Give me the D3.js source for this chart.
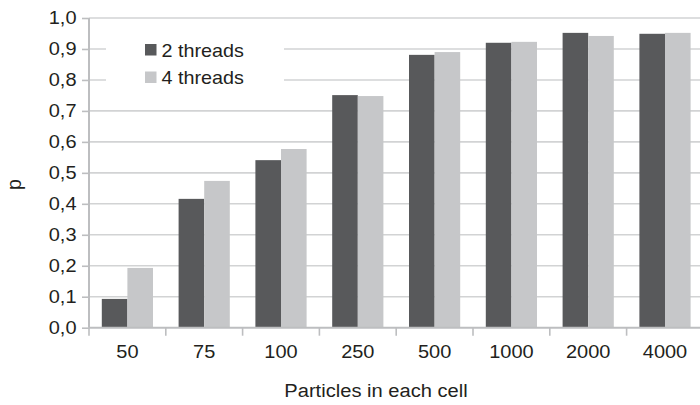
<!DOCTYPE html>
<html>
<head>
<meta charset="utf-8">
<script src="https://cdn.jsdelivr.net/npm/d3@7"></script>
<style>
  html, body { margin: 0; padding: 0; background: #ffffff; }
  svg { display: block; font-family: "Liberation Sans", Arial, sans-serif; }
</style>
</head>
<body>
<svg id="chart" width="700" height="405"></svg>
<script>
const categories = ["50", "75", "100", "250", "500", "1000", "2000", "4000"];
const seriesNames = ["2 threads", "4 threads"];
const threads2 = [0.093, 0.416, 0.541, 0.751, 0.881, 0.920, 0.952, 0.949];
const threads4 = [0.193, 0.474, 0.577, 0.748, 0.890, 0.923, 0.942, 0.952];
const yTicks = [0, 0.1, 0.2, 0.3, 0.4, 0.5, 0.6, 0.7, 0.8, 0.9, 1.0];
const colors = ["#58595b", "#c6c7c9"];

const data = categories.map((c, i) => ({ cat: c, values: [threads2[i], threads4[i]] }));

const svg = d3.select("#chart");
const mLeft = 89, mRight = 703.4, mTop = 18, mBottom = 327.7;
const textColor = "#231f20";
const gridColor = "#d2d3d4";
const axisColor = "#bdbec0";
const tickScale = 1.08, legScale = 1.04, titleScale = 1.06;

const x = d3.scaleBand().domain(categories).range([mLeft, mRight]).padding(0);
const x1 = d3.scaleBand().domain([0, 1]).range([0, x.bandwidth()]).paddingInner(0).paddingOuter(0.5);
const y = d3.scaleLinear().domain([0, 1]).range([mBottom, mTop]);
const fmt = d => d3.format(".1f")(d).replace(".", ",");

// gridlines
svg.append("g").selectAll("line").data(yTicks.filter(t => t > 0)).join("line")
  .attr("x1", mLeft).attr("x2", 700)
  .attr("y1", d => y(d)).attr("y2", d => y(d))
  .attr("stroke", gridColor).attr("stroke-width", 1.6);

// legend background (covers gridlines)
svg.append("rect").attr("x", 106).attr("y", 34).attr("width", 178).attr("height", 58).attr("fill", "#ffffff");

// bars
const g = svg.append("g");
g.selectAll("g").data(data).join("g")
  .attr("transform", d => `translate(${x(d.cat)},0)`)
  .selectAll("rect").data(d => d.values.map((v, k) => ({ v, k }))).join("rect")
  .attr("x", d => x1(d.k)).attr("width", x1.bandwidth())
  .attr("y", d => y(d.v)).attr("height", d => y(0) - y(d.v))
  .attr("fill", d => colors[d.k]);

// y axis
const yAxis = svg.append("g").attr("transform", `translate(${mLeft},0)`)
  .call(d3.axisLeft(y).tickValues(yTicks).tickFormat(fmt).tickSize(7).tickPadding(5));
yAxis.select(".domain").attr("stroke", axisColor).attr("stroke-width", 2).attr("d", `M0,${mTop}V${mBottom}`);
yAxis.selectAll(".tick line").attr("stroke", axisColor).attr("stroke-width", 1.6);
yAxis.selectAll(".tick text").attr("fill", textColor).attr("font-size", "18.5px")
  .attr("font-family", "Liberation Sans, Arial, sans-serif")
  .attr("x", -12.5 / tickScale).attr("transform", `scale(${tickScale},1)`);

// x axis
const xAxis = svg.append("g").attr("transform", `translate(0,${mBottom})`)
  .call(d3.axisBottom(x).tickSize(0).tickPadding(17.5));
xAxis.select(".domain").attr("stroke", axisColor).attr("stroke-width", 2).attr("d", `M${mLeft},0H${mRight}`);
xAxis.selectAll(".tick text").attr("fill", textColor).attr("font-size", "18.5px")
  .attr("font-family", "Liberation Sans, Arial, sans-serif")
  .attr("transform", `scale(${tickScale},1)`);
const boundaries = categories.map(c => x(c)).concat([mRight]);
xAxis.append("g").selectAll("line").data(boundaries).join("line")
  .attr("x1", d => d).attr("x2", d => d).attr("y1", 0).attr("y2", 8)
  .attr("stroke", axisColor).attr("stroke-width", 1.6);

// axis titles
svg.append("text").attr("transform", `translate(376,397) scale(${titleScale},1)`).attr("text-anchor", "middle")
  .attr("font-size", "19px").attr("fill", textColor).text("Particles in each cell");
svg.append("text").attr("transform", "translate(21,184.5) rotate(-90)").attr("text-anchor", "middle")
  .attr("font-size", "19.5px").attr("fill", textColor).text("p");

// legend
const leg = svg.append("g");
seriesNames.forEach((name, i) => {
  const yy = 44 + i * 27.5;
  leg.append("rect").attr("x", 145).attr("y", yy).attr("width", 11.5).attr("height", 11.5).attr("fill", colors[i]);
  leg.append("text").attr("transform", `translate(161.5,${yy + 12.5}) scale(${legScale},1)`)
    .attr("font-size", "19px").attr("fill", textColor).text(name);
});
</script>
</body>
</html>
